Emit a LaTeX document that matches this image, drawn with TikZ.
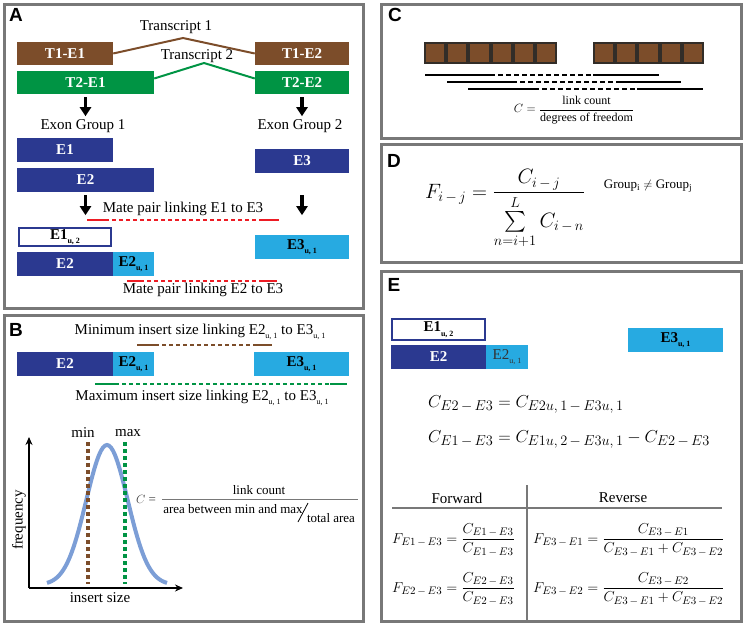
\documentclass[tikz,border=0pt]{standalone}
\usepackage{amsmath}
\usepackage{fontspec}
\setmainfont{Liberation Serif}
\newfontfamily\panelfont{Liberation Sans}
\usetikzlibrary{arrows.meta}

\definecolor{exbrown}{RGB}{124,77,42}
\definecolor{exgreen}{RGB}{0,148,68}
\definecolor{exdark}{RGB}{43,57,144}
\definecolor{exlight}{RGB}{39,170,225}
\definecolor{exred}{RGB}{237,28,36}
\definecolor{exbell}{RGB}{124,158,214}
\definecolor{exframe}{RGB}{120,120,120}
\definecolor{exedge}{RGB}{50,45,40}

\tikzset{panel/.style={draw=exframe, line width=3pt}}
\tikzset{plabel/.style={inner sep=0, font=\panelfont\bfseries\fontsize{19}{19}\selectfont}}
\tikzset{txt/.style={inner sep=0, font=\fontsize{15}{18}\selectfont}}
\tikzset{ftxt/.style={inner sep=0, font=\fontsize{13}{15}\selectfont}}
\tikzset{exon/.style={inner sep=0, minimum height=24, text=white, font=\bfseries\fontsize{15}{15}\selectfont}}
\tikzset{uniq/.style={exon, fill=exlight, text=black}}
\tikzset{grouparrow/.style={-{Triangle[width=11pt,length=9pt]}, line width=3.5pt}}
\tikzset{pairline/.style={line width=2.5pt}}
\tikzset{gapline/.style={line width=2.5pt, dash pattern=on 4pt off 3pt}}
\tikzset{readline/.style={line width=2pt}}
\tikzset{readgap/.style={line width=2pt, dash pattern=on 5pt off 3pt}}
\tikzset{block/.style={draw=exedge, fill=exbrown, line width=2pt, minimum size=20.2, inner sep=0}}
\tikzset{eqn/.style={inner sep=0, anchor=base west}}
\tikzset{tabline/.style={draw=exframe, line width=2.5pt}}
\tikzset{cutoff/.style={line width=4pt, dash pattern=on 4pt off 3pt}}

\newcommand{\usub}[1]{\raisebox{-0.3em}{\fontsize{8}{8}\selectfont #1}}
\def \sig {20.7}

\begin{document}
\begin{tikzpicture}[x=1pt, y=-1pt]
\useasboundingbox (0,0) rectangle (745,625);

% A: transcripts and exon groups
\draw[panel] (4,4) rectangle (363,308);
\node[plabel] (la) at (16,15) {A};
\node[txt] (tr1) at (176,27) {Transcript 1};
\node[txt] (tr2) at (197,56) {Transcript 2};
\node[exon, fill=exbrown, minimum width=96, minimum height=23] (t1e1) at (65,53.5) {T1-E1};
\node[exon, fill=exbrown, minimum width=94, minimum height=23] (t1e2) at (302,53.5) {T1-E2};
\node[exon, fill=exgreen, minimum width=137, minimum height=23] (t2e1) at (85.5,82.5) {T2-E1};
\node[exon, fill=exgreen, minimum width=94, minimum height=23] (t2e2) at (302,82.5) {T2-E2};
\coordinate (top1) at (183,38);
\coordinate (top2) at (204,63);
\draw[exbrown, line width=2pt] (t1e1.east) -- (top1) -- (t1e2.west);
\draw[exgreen, line width=2pt] ([yshift=4]t2e1.east) -- (top2) -- ([yshift=4]t2e2.west);

\node[txt] (grp1) at (83,126) {Exon Group 1};
\node[txt] (grp2) at (300,126) {Exon Group 2};
\draw[grouparrow] ([yshift=-3]t2e1.south) -- ([yshift=3]t2e1.south |- grp1.north);
\draw[grouparrow] ([yshift=-3]t2e2.south) -- ([yshift=3]t2e2.south |- grp2.north);

\node[exon, fill=exdark, minimum width=96] (e1) at (65,150) {E1};
\node[exon, fill=exdark, minimum width=137] (e2) at (85.5,180) {E2};
\node[exon, fill=exdark, minimum width=94] (e3) at (302,161) {E3};
\draw[grouparrow] ([yshift=-3]e2.south) -- ([yshift=-23]e2.south);
\draw[grouparrow] ([yshift=-22]e3.south) -- ([yshift=-42]e3.south);

\node[txt] (mp1) at (183,209) {Mate pair linking E1 to E3};
\coordinate (m1a) at (87,220);
\coordinate (m1b) at (105,220);
\coordinate (m1c) at (263,220);
\coordinate (m1d) at (279,220);
\draw[exred, pairline] (m1a) -- (m1b);
\draw[exred, gapline] (m1b) -- (m1c);
\draw[exred, pairline] (m1c) -- (m1d);

\node[exon, fill=white, draw=exdark, line width=2pt, text=black, minimum width=92, minimum height=18] (e1u2) at (65,237) {E1\usub{u, 2}};
\node[uniq, minimum width=94] (e3u1) at (302,247) {E3\usub{u, 1}};
\node[exon, fill=exdark, minimum width=96] (e2s) at (65,264) {E2};
\node[uniq, minimum width=41] (e2u1) at (133.5,264) {E2\usub{u, 1}};

\coordinate (m2a) at (127,281);
\coordinate (m2b) at (140,281);
\coordinate (m2c) at (262,281);
\coordinate (m2d) at (277,281);
\draw[exred, pairline] (m2a) -- (m2b);
\draw[exred, gapline] (m2b) -- (m2c);
\draw[exred, pairline] (m2c) -- (m2d);
\node[txt] (mp2) at (203,290) {Mate pair linking E2 to E3};

% B: insert size window
\draw[panel] (4,315) rectangle (363,621);
\node[plabel] (lb) at (16,330) {B};
\node[txt] (minl) at (200,332) {Minimum insert size linking E2\usub{u, 1} to E3\usub{u, 1}};
\coordinate (n1a) at (137,345);
\coordinate (n1b) at (155,345);
\coordinate (n1c) at (257,345);
\coordinate (n1d) at (272,345);
\draw[exbrown, pairline] (n1a) -- (n1b);
\draw[exbrown, gapline] (n1b) -- (n1c);
\draw[exbrown, pairline] (n1c) -- (n1d);

\node[exon, fill=exdark, minimum width=96] (be2) at (65,364) {E2};
\node[uniq, minimum width=41] (be2u1) at (133.5,364) {E2\usub{u, 1}};
\node[uniq, minimum width=95] (be3u1) at (301.5,364) {E3\usub{u, 1}};

\coordinate (x1a) at (95,384);
\coordinate (x1b) at (115,384);
\coordinate (x1c) at (330,384);
\coordinate (x1d) at (347,384);
\draw[exgreen, pairline] (x1a) -- (x1b);
\draw[exgreen, gapline] (x1b) -- (x1c);
\draw[exgreen, pairline] (x1c) -- (x1d);
\node[txt] (maxl) at (202,398) {Maximum insert size linking E2\usub{u, 1} to E3\usub{u, 1}};

\coordinate (orig) at (29,588);
\coordinate (ytop) at (29,437);
\coordinate (xend) at (183,588);
\draw[line width=2.5pt, -{Stealth[length=8pt,width=7pt]}] (orig) -- (ytop);
\draw[line width=2.5pt, -{Stealth[length=8pt,width=7pt]}] (orig) -- (xend);
\node[txt, rotate=90] (freq) at (19,520) {frequency};
\node[txt] (isz) at (100,598) {insert size};

\draw[exbell, line width=4pt] plot[domain=-60:60, samples=61, smooth] ({107+\x}, {585-140*exp(-(\x*\x)/(2*\sig*\sig))});
\node[txt] (minv) at (83,433) {min};
\node[txt] (maxv) at (128,433) {max};
\draw[exbrown, cutoff] (88,442) -- (88,584);
\draw[exgreen, cutoff] (125,442) -- (125,584);

\node[ftxt, text=black!75] (cb) at (146,499) {$C$ =};
\draw[exframe, line width=0.7pt] (162,499) -- (358,499);
\node[ftxt] (lcb) at (259,490) {link count};
\node[ftxt] (area) at (233,509) {area between min and max};
\draw[line width=0.8pt] (298,522) -- (308,503);
\node[ftxt] (tot) at (331,518) {total area};

% C: degrees of freedom
\draw[panel] (381,4) rectangle (741,138);
\node[plabel] (lc) at (395,15) {C};
\foreach \i in {0,...,5}
  \node[block] (bl\i) at ({435.1+22.2*\i},53) {};
\foreach \i in {0,...,4}
  \node[block] (br\i) at ({604.1+22.2*\i},53) {};

\draw[readline] (425,75) -- (490,75);
\draw[readgap] (490,75) -- (593,75);
\draw[readline] (593,75) -- (659,75);
\draw[readline] (447,82) -- (512,82);
\draw[readgap] (512,82) -- (616,82);
\draw[readline] (616,82) -- (681,82);
\draw[readline] (468,89) -- (534,89);
\draw[readgap] (534,89) -- (637,89);
\draw[readline] (637,89) -- (703,89);

\node[inner sep=0, font=\fontsize{12}{14}\selectfont] (cc) at (574,110) {$C=\dfrac{\text{link count}}{\text{degrees of freedom}}$};

% D: fraction of links
\draw[panel] (381,144) rectangle (741,262);
\node[plabel] (ld) at (394,161) {D};
\node[eqn, font=\fontsize{21}{25}\selectfont] (fij) at (425,198) {$F_{i\,-\,j}=\dfrac{C_{i\,-\,j}}{\sum\limits_{n=i+1}^{L}C_{i\,-\,n}}$};
\node[inner sep=0, font=\fontsize{13}{15}\selectfont] (grpne) at (648,186) {Group\textsubscript{i} $\neq$ Group\textsubscript{j}};

% E: worked example
\draw[panel] (381,271) rectangle (741,621);
\node[plabel] (le) at (394,285) {E};
\node[exon, fill=white, draw=exdark, line width=2pt, text=black, minimum width=93, minimum height=21] (ee1u2) at (438.5,329.5) {E1\usub{u, 2}};
\node[exon, fill=exdark, minimum width=95] (ee2) at (438.5,357) {E2};
\node[exon, fill=exlight, minimum width=42, text=black!80, font=\fontsize{15}{15}\selectfont] (ee2u1) at (507,357) {E2\usub{u, 1}};
\node[uniq, minimum width=95] (ee3u1) at (675.5,340) {E3\usub{u, 1}};

\node[eqn, font=\fontsize{19}{22}\selectfont] (eq1) at (428,407) {$C_{E2\,-\,E3}=C_{E2u,\,1\,-\,E3u,\,1}$};
\node[eqn, font=\fontsize{19}{22}\selectfont] (eq2) at (428,442) {$C_{E1\,-\,E3}=C_{E1u,\,2\,-\,E3u,\,1}-C_{E2\,-\,E3}$};

\draw[tabline] (527,485) -- (527,620);
\draw[tabline] (392,508) -- (722,508);
\node[txt] (fwd) at (457,498) {Forward};
\node[txt] (rev) at (623,498) {Reverse};
\node[eqn, font=\fontsize{15}{18}\selectfont] (f13) at (392,543) {$F_{E1\,-\,E3}=\dfrac{C_{E1\,-\,E3}}{C_{E1\,-\,E3}}$};
\node[eqn, font=\fontsize{15}{18}\selectfont] (f23) at (392,592) {$F_{E2\,-\,E3}=\dfrac{C_{E2\,-\,E3}}{C_{E2\,-\,E3}}$};
\node[eqn, font=\fontsize{15}{18}\selectfont] (f31) at (533,543) {$F_{E3\,-\,E1}=\dfrac{C_{E3\,-\,E1}}{C_{E3\,-\,E1}+C_{E3\,-\,E2}}$};
\node[eqn, font=\fontsize{15}{18}\selectfont] (f32) at (533,592) {$F_{E3\,-\,E2}=\dfrac{C_{E3\,-\,E2}}{C_{E3\,-\,E1}+C_{E3\,-\,E2}}$};

\end{tikzpicture}
\end{document}
